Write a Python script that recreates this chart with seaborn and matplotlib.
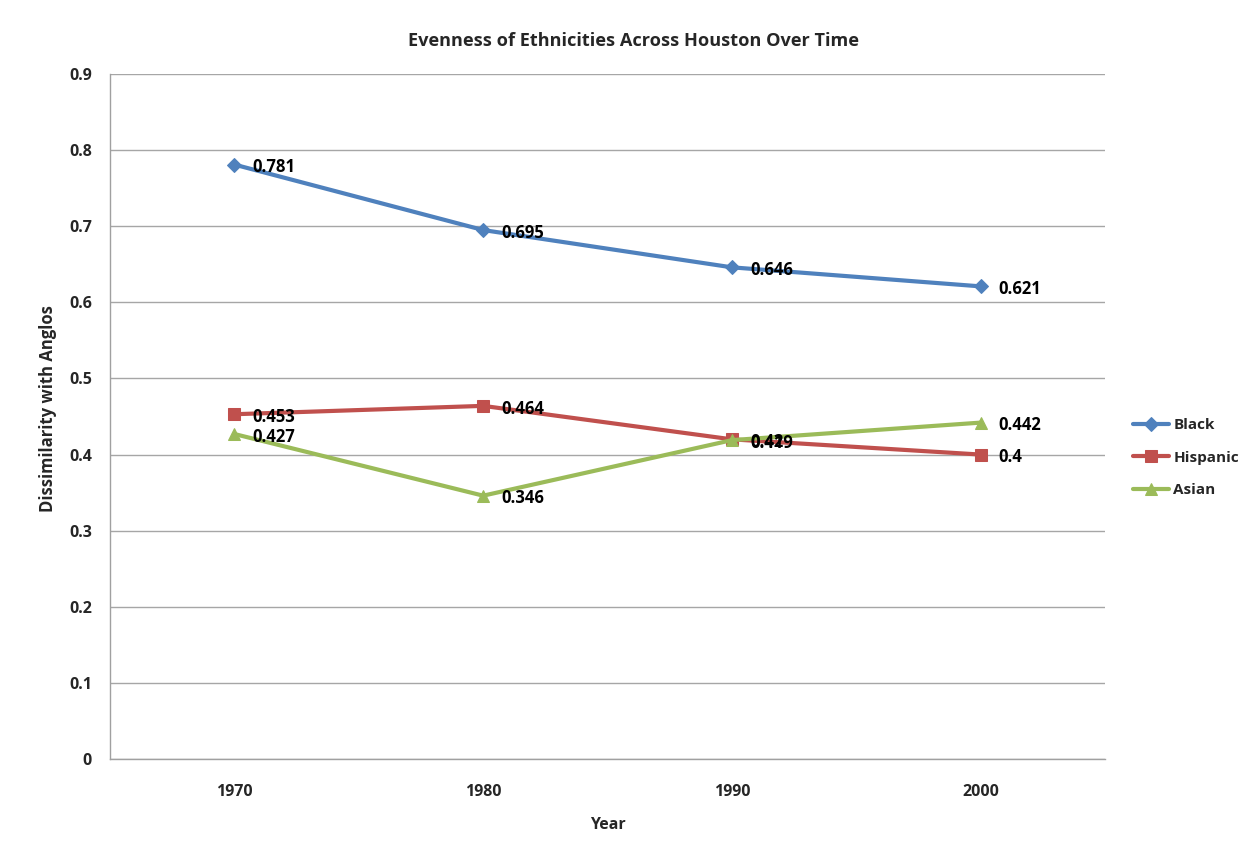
import matplotlib
matplotlib.use("Agg")
import matplotlib.pyplot as plt
import seaborn as sns
import pandas as pd
import numpy as np

years = ["1970", "1980", "1990", "2000"]
black = [0.781, 0.695, 0.646, 0.621]
hispanic = [0.453, 0.464, 0.42, 0.4]
asian = [0.427, 0.346, 0.419, 0.442]
series_names = ["Black", "Hispanic", "Asian"]
y_ticks = [0, 0.1, 0.2, 0.3, 0.4, 0.5, 0.6, 0.7, 0.8, 0.9]

colors = {"Black": "#4F81BD", "Hispanic": "#C0504D", "Asian": "#9BBB59"}
markers = {"Black": "D", "Hispanic": "s", "Asian": "^"}
msizes = {"Black": 7, "Hispanic": 9, "Asian": 9}

rows = []
for name, vals in zip(series_names, [black, hispanic, asian]):
    for i, v in enumerate(vals):
        rows.append({"pos": i, "year": years[i], "value": v, "series": name})
df = pd.DataFrame(rows)

sns.set_theme(style="white")
plt.rcParams["font.family"] = ["Open Sans", "DejaVu Sans"]
plt.rcParams["font.weight"] = "bold"

fig = plt.figure(figsize=(12.45, 8.49), dpi=100)
ax = fig.add_axes([0.0884, 0.106, 0.7992, 0.8068])

for name in series_names:
    sub = df[df["series"] == name]
    sns.lineplot(data=sub, x="pos", y="value", ax=ax, color=colors[name],
                 linewidth=3, marker=markers[name], markersize=msizes[name],
                 markeredgecolor=colors[name], label=name, zorder=3)
    for _, r in sub.iterrows():
        ax.annotate(f"{r['value']:g}", (r["pos"], r["value"]),
                    xytext=(13, -2), textcoords="offset points",
                    ha="left", va="center", fontsize=12, fontweight="bold",
                    color="black", zorder=4)

ax.set_xlim(-0.5, 3.5)
ax.set_ylim(0, 0.9)
ax.set_yticks(y_ticks)
ax.set_yticklabels([f"{t:g}" for t in y_ticks], fontsize=11.5, fontweight="bold")
ax.set_xticks(range(len(years)))
ax.set_xticklabels(years, fontsize=11.5, fontweight="bold")
ax.set_xticks(np.arange(-0.5, len(years), 1.0), minor=True)
ax.tick_params(axis="x", which="major", length=0, pad=18)
ax.tick_params(axis="x", which="minor", length=5, width=1, color="#A0A0A0", direction="out")
ax.tick_params(axis="y", which="major", length=5, width=1, color="#A0A0A0", direction="out", pad=8)
ax.yaxis.grid(True, color="#A6A6A6", linewidth=1)
ax.xaxis.grid(False)
for s in ["top", "right"]:
    ax.spines[s].set_visible(False)
for s in ["left", "bottom"]:
    ax.spines[s].set_color("#A0A0A0")
    ax.spines[s].set_linewidth(1)

ax.set_xlabel("Year", fontsize=11.5, fontweight="bold", labelpad=12)
ax.set_ylabel("Dissimilarity with Anglos", fontsize=12, fontweight="bold")
ax.yaxis.set_label_coords(-0.053, 0.512)
ax.set_title("Evenness of Ethnicities Across Houston Over Time",
             fontsize=13.1, fontweight="bold", pad=20, x=0.526)

ax.legend(loc="center left", bbox_to_anchor=(1.014, 0.44), frameon=False,
          handlelength=2.4, handletextpad=0.25, labelspacing=1.2,
          prop={"weight": "bold", "size": 11})

fig.savefig("out.png", dpi=100)
